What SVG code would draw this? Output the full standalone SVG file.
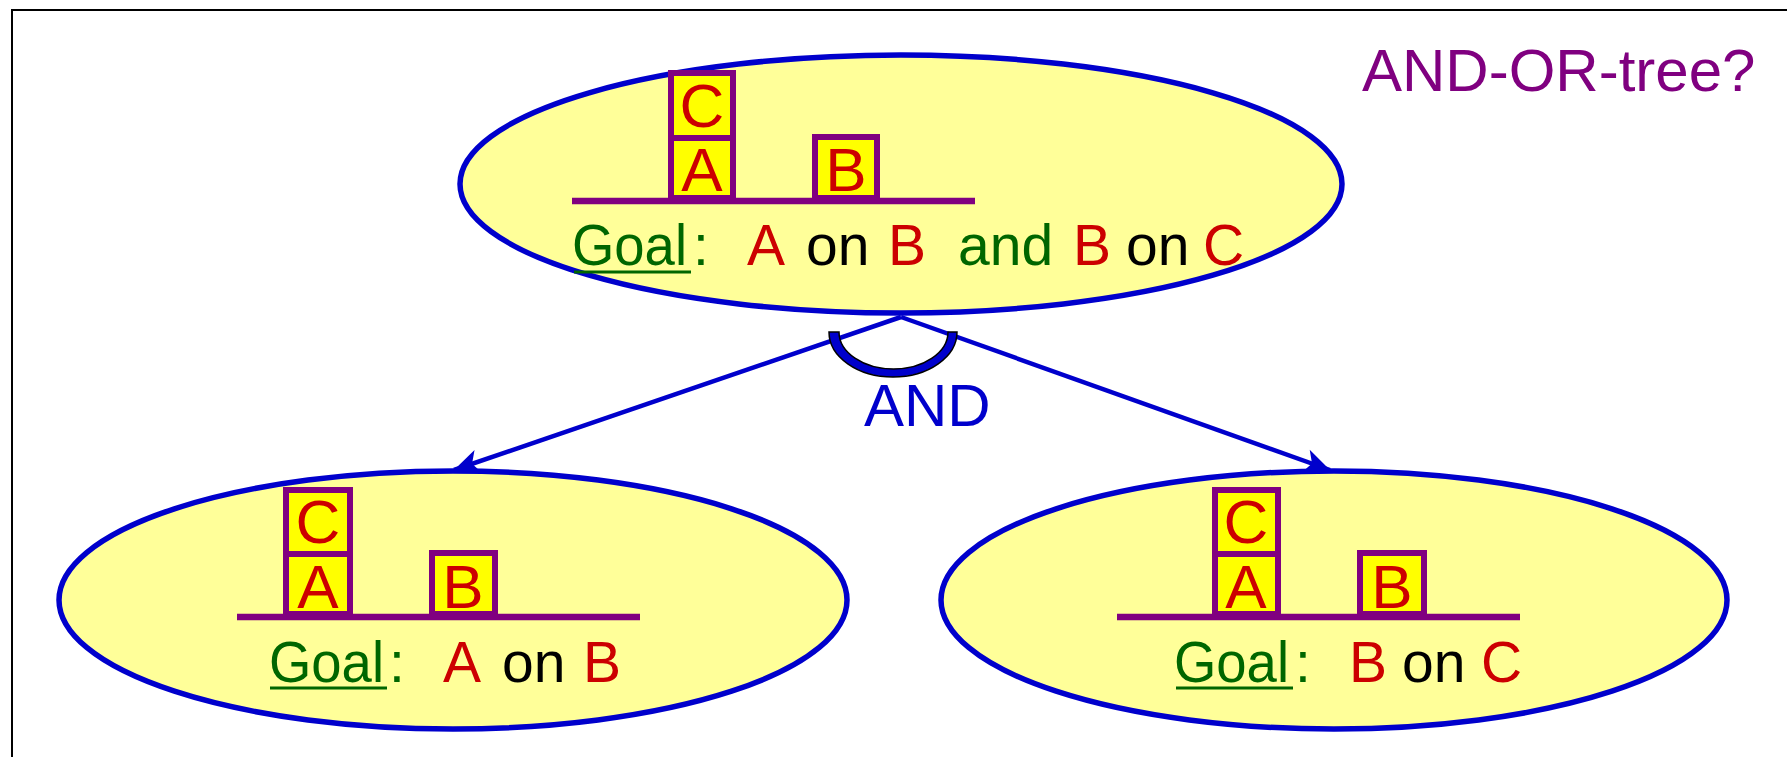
<svg xmlns="http://www.w3.org/2000/svg" width="1787" height="757" viewBox="0 0 1787 757">
<defs>
<style>
.node{fill:#FFFF99;stroke:#0000CC;stroke-width:5.5}
.box{fill:#FFFF00;stroke:#800080;stroke-width:6}
.ground{stroke:#800080;stroke-width:6.5}
.t{font-family:"Liberation Sans",Arial,sans-serif;font-size:60px}
.w{font-family:"Liberation Sans",Arial,sans-serif;font-size:57px}
.blk{font-family:"Liberation Sans",Arial,sans-serif;font-size:62px;fill:#CC0000;text-anchor:middle}
.g{fill:#006600}
.r{fill:#CC0000}
.k{fill:#000000}
.ul{stroke:#006600;stroke-width:3}
.conn{stroke:#0000CC;stroke-width:4.5;fill:none}
</style>
<marker id="arr" markerUnits="userSpaceOnUse" markerWidth="30" markerHeight="30" viewBox="-20 -10 22 20" refX="0" refY="0" orient="auto">
<path d="M0,0 L-19,-9 L-14,0 L-19,9 Z" fill="#0000CC"/>
</marker>
</defs>
<rect x="12" y="10" width="1800" height="800" fill="none" stroke="#000" stroke-width="2"/>

<g id="connectors">
<line class="conn" x1="901" y1="317" x2="454" y2="470" marker-end="url(#arr)"/>
<line class="conn" x1="901" y1="317" x2="1330" y2="470" marker-end="url(#arr)"/>
<path d="M829,332 A64,45 0 0 0 957,332 L948,332 A54.5,37 0 0 1 839,332 Z" fill="#0000CC" stroke="#000" stroke-width="1.5"/>
<text class="t" x="864" y="426" fill="#0000CC">AND</text>
</g>

<g id="root">
<ellipse class="node" cx="901" cy="184" rx="441" ry="129"/>
<line class="ground" x1="572" y1="201" x2="975" y2="201"/>
<rect class="box" x="671" y="73" width="62" height="65"/>
<rect class="box" x="671" y="138" width="62" height="60"/>
<rect class="box" x="815" y="137" width="62" height="61"/>
<text class="blk" x="702" y="127">C</text>
<text class="blk" x="702" y="191">A</text>
<text class="blk" x="846" y="191">B</text>
<text class="w g" x="572" y="265" textLength="115" lengthAdjust="spacingAndGlyphs">Goal</text>
<line class="ul" x1="574" y1="272" x2="691" y2="272"/>
<text class="w g" x="693" y="265">:</text>
<text class="w r" x="747" y="265">A</text>
<text class="w k" x="806" y="265">on</text>
<text class="w r" x="888" y="265">B</text>
<text class="w g" x="958" y="265">and</text>
<text class="w r" x="1073" y="265">B</text>
<text class="w k" x="1126" y="265">on</text>
<text class="w r" x="1203" y="265">C</text>
</g>

<g id="left">
<ellipse class="node" cx="453" cy="600" rx="394" ry="129"/>
<line class="ground" x1="237" y1="617" x2="640" y2="617"/>
<rect class="box" x="286" y="490" width="64" height="64"/>
<rect class="box" x="286" y="554" width="64" height="60"/>
<rect class="box" x="432" y="553" width="63" height="61"/>
<text class="blk" x="318" y="543">C</text>
<text class="blk" x="318" y="608">A</text>
<text class="blk" x="463" y="608">B</text>
<text class="w g" x="269" y="682" textLength="115" lengthAdjust="spacingAndGlyphs">Goal</text>
<line class="ul" x1="270" y1="688" x2="387" y2="688"/>
<text class="w g" x="389" y="682">:</text>
<text class="w r" x="443" y="682">A</text>
<text class="w k" x="502" y="682">on</text>
<text class="w r" x="583" y="682">B</text>
</g>

<g id="right">
<ellipse class="node" cx="1334" cy="600" rx="393" ry="129"/>
<line class="ground" x1="1117" y1="617" x2="1520" y2="617"/>
<rect class="box" x="1215" y="490" width="63" height="64"/>
<rect class="box" x="1215" y="554" width="63" height="60"/>
<rect class="box" x="1360" y="553" width="64" height="61"/>
<text class="blk" x="1246" y="543">C</text>
<text class="blk" x="1246" y="608">A</text>
<text class="blk" x="1392" y="608">B</text>
<text class="w g" x="1174" y="682" textLength="115" lengthAdjust="spacingAndGlyphs">Goal</text>
<line class="ul" x1="1176" y1="688" x2="1293" y2="688"/>
<text class="w g" x="1295" y="682">:</text>
<text class="w r" x="1349" y="682">B</text>
<text class="w k" x="1402" y="682">on</text>
<text class="w r" x="1481" y="682">C</text>
</g>

<text id="title" class="t" x="1362" y="91" fill="#800080">AND-OR-tree?</text>
</svg>
